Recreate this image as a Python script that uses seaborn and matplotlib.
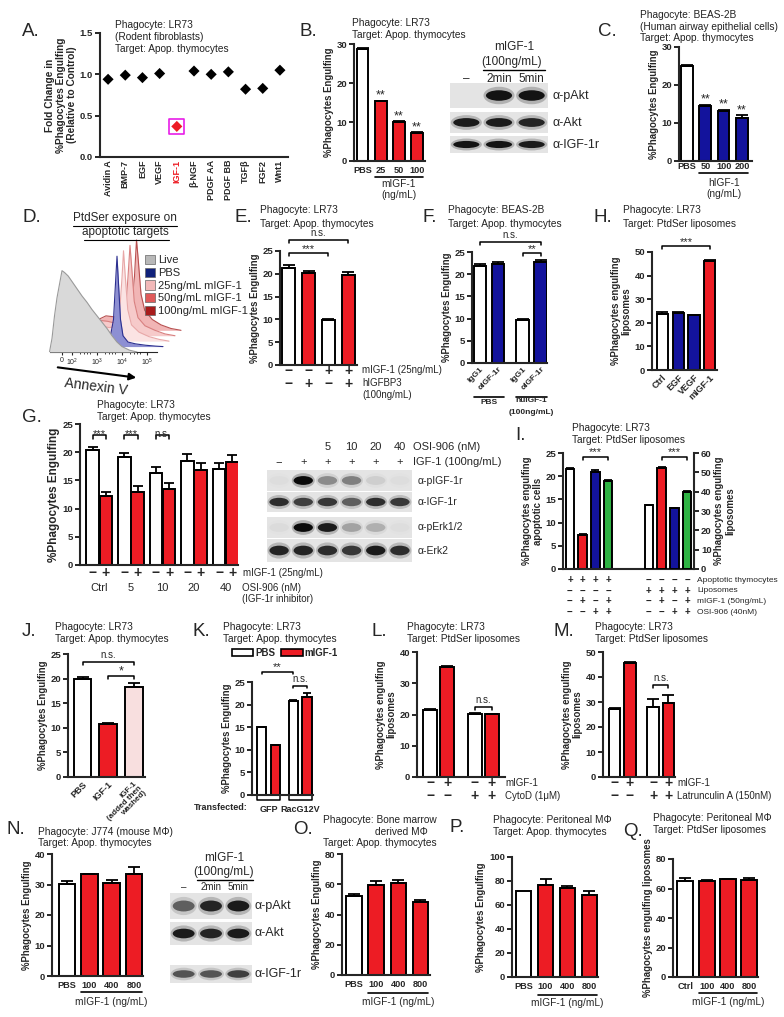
import numpy as np
import pandas as pd
import matplotlib.pyplot as plt
import matplotlib.transforms as mtransforms
from matplotlib.patches import Rectangle, Ellipse, Patch
from matplotlib.ticker import FormatStrFormatter
import seaborn as sns

sns.set_style("ticks")
plt.rcParams['font.family'] = ['Liberation Sans', 'DejaVu Sans']
plt.rcParams['axes.linewidth'] = 1.5
plt.rcParams['mathtext.default'] = 'regular'

RED = "#ed1c24"
BLUE = "#13139c"
GREEN = "#2fb344"
PINK = "#f8dfdf"

# ---------------- data ----------------
# A. growth factor screen
a_factors = ["Avidin A", "BMP-7", "EGF", "VEGF", "IGF-1", "β-NGF", "PDGF AA", "PDGF BB", "TGFβ", "FGF2", "Wnt1"]
a_fold = [0.94, 0.99, 0.96, 1.01, 0.37, 1.04, 1.00, 1.03, 0.82, 0.83, 1.05]

# B. LR73 + mIGF-1 dose
b_doses = ["PBS", "25", "50", "100"]
b_engulf = [28.6, 15.3, 10.0, 7.2]
b_err = [0.3, 0.2, 0.15, 0.15]
akt_rows = ["α-pAkt", "α-Akt", "α-IGF-1r"]
akt_lanes = ["–", "2min", "5min"]
b_blot = [[0.0, 0.95, 0.95], [0.9, 0.9, 0.85], [0.95, 0.95, 0.9]]

# C. BEAS-2B + hIGF-1 dose
c_doses = ["PBS", "50", "100", "200"]
c_engulf = [25.0, 14.6, 13.2, 11.4]
c_err = [0.3, 0.2, 0.3, 0.6]

# D. annexin V histograms (log10 intensity, relative count)
d_samples = ["Live", "PBS", "25ng/mL mIGF-1", "50ng/mL mIGF-1", "100ng/mL mIGF-1"]
d_logx = [
    [1.1, 1.2, 1.3, 1.4, 1.5, 1.6, 1.7, 1.85, 2.0, 2.2, 2.4, 2.6, 2.8, 3.0, 3.2, 3.4, 3.6, 3.8, 4.0, 4.3, 4.6],
    [2.0, 2.4, 2.8, 3.1, 3.3, 3.42, 3.5, 3.56, 3.62, 3.7, 3.8, 4.0, 4.3, 4.7, 5.1, 5.4],
    [1.5, 1.8, 2.1, 2.4, 2.7, 3.0, 3.25, 3.42, 3.52, 3.58, 3.65, 3.75, 3.9, 4.2, 4.6, 5.0, 5.4],
    [1.5, 1.8, 2.1, 2.4, 2.7, 3.0, 3.25, 3.42, 3.52, 3.6, 3.67, 3.77, 3.92, 4.2, 4.6, 5.0, 5.4],
    [1.5, 1.8, 2.1, 2.4, 2.7, 3.0, 3.25, 3.42, 3.54, 3.62, 3.69, 3.8, 3.95, 4.25, 4.6, 5.0, 5.4],
]
d_count = [
    [0, 15, 40, 60, 75, 90, 88, 84, 78, 70, 62, 55, 47, 40, 33, 26, 18, 11, 6, 2, 0],
    [0, 2, 5, 8, 12, 30, 70, 100, 70, 30, 12, 5, 3, 1.5, 0.5, 0],
    [0, 6, 14, 18, 17, 15, 16, 30, 70, 100, 72, 35, 18, 10, 5, 2, 0],
    [0, 5, 13, 17, 16, 14, 16, 28, 65, 100, 75, 38, 20, 11, 6, 2, 0],
    [0, 5, 12, 16, 15, 13, 15, 26, 60, 100, 78, 40, 22, 12, 6, 2, 0],
]
d_fill = ["#d9d9d9", "#8d8fd3", "#fbe3e3", "#f6caca", "#f1b5b5"]
d_edge = ["#9a9a9a", "#2c2f8f", "#e8a8a8", "#d88080", "#b85050"]
d_legend = ["#b8b8b8", "#10217a", "#f2b8b8", "#e05a5a", "#a81c1c"]

# E. IGFBP3
e_groups = ["mIGF-1 −", "mIGF-1 +"]
e_bp3 = ["−", "+"]
e_engulf = [[21.2, 20.1], [9.9, 19.8]]
e_err = [0.8, 0.6, 0.15, 0.5]
e_migf_row = ["−", "−", "+", "+"]
e_bp3_row = ["−", "+", "−", "+"]

# F. blocking antibody
f_groups = ["PBS", "huIGF-1"]
f_ab = ["IgG1", "αIGF-1r"]
f_engulf = [[21.8, 22.3], [9.6, 22.8]]
f_err = [0.4, 0.5, 0.4, 0.5]

# H. liposomes, growth factors
h_treat = ["Ctrl", "EGF", "VEGF", "mIGF-1"]
h_engulf = [23.7, 24.3, 23.2, 46.0]
h_err = [0.7, 0.3, 0.3, 0.8]

# G. OSI-906
g_osi = ["Ctrl", "5", "10", "20", "40"]
g_migf = ["−", "+"]
g_engulf = [[20.4, 12.2], [19.2, 13.0], [16.4, 13.5], [18.4, 16.9], [17.1, 18.3]]
g_err = [0.6, 0.7, 0.7, 1.0, 1.0, 1.0, 1.2, 1.2, 1.0, 1.2]
g_sig = ["***", "***", "n.s."]
g_blot_rows = ["α-pIGF-1r", "α-IGF-1r", "α-pErk1/2", "α-Erk2"]
g_blot_osi = ["", "", "5", "10", "20", "40"]
g_blot_igf = ["−", "+", "+", "+", "+", "+"]
g_blot = [[0.02, 1.0, 0.35, 0.4, 0.08, 0.02],
          [0.8, 0.7, 0.75, 0.55, 0.8, 0.75],
          [0.03, 1.0, 0.9, 0.25, 0.2, 0.02],
          [0.85, 0.85, 0.8, 0.75, 0.9, 0.8]]

# I. cells vs liposomes
i_groups = ["cells", "liposomes"]
i_conds = ["ctrl", "mIGF-1", "OSI-906", "mIGF-1+OSI-906"]
i_cells = [21.6, 7.4, 21.0, 18.9]
i_cells_err = [0.1, 0.1, 0.4, 0.2]
i_lipo = [32.9, 52.3, 31.4, 39.8]
i_lipo_err = [0.2, 0.3, 0.2, 0.5]
i_rows = ["Apoptotic thymocytes", "Liposomes", "mIGF-1 (50ng/mL)", "OSI-906 (40nM)"]
i_signs_cells = [["+"] * 4, ["−"] * 4, ["−", "+", "−", "+"], ["−", "−", "+", "+"]]
i_signs_lipo = [["−"] * 4, ["+"] * 4, ["−", "+", "−", "+"], ["−", "−", "+", "+"]]

# J. washout
j_treat = ["PBS", "IGF-1", "IGF-1\n(added then\nwashed)"]
j_engulf = [20.0, 10.8, 18.3]
j_err = [0.3, 0.1, 0.8]

# K. Rac G12V
k_cells = ["GFP", "RacG12V"]
k_treat = ["PBS", "mIGF-1"]
k_engulf = [[15.0, 11.0], [20.9, 21.6]]
k_err = [0.1, 0.1, 0.2, 1.0]

# L. cytochalasin D
l_groups = ["vehicle", "CytoD"]
l_engulf = [[21.6, 35.3], [20.3, 20.1]]
l_err = [0.2, 0.2, 0.2, 0.2]
# M. latrunculin A
m_groups = ["vehicle", "LatA"]
m_engulf = [[27.2, 45.6], [27.9, 29.8]]
m_err = [0.6, 0.3, 3.2, 3.2]
lm_migf_row = ["−", "+", "−", "+"]
lm_drug_row = ["−", "−", "+", "+"]

# N-Q. macrophages
mac_doses = ["PBS", "100", "400", "800"]
n_engulf = [30.2, 33.3, 30.4, 33.6]
n_err = [1.0, 0.2, 1.0, 2.2]
n_blot = [[0.55, 0.85, 0.9], [0.9, 0.85, 0.9], [0.6, 0.6, 0.7]]
o_engulf = [52.3, 59.5, 60.5, 48.0]
o_err = [1.5, 2.5, 2.0, 1.8]
p_engulf = [72.0, 77.0, 74.0, 68.5]
p_err = [0.0, 5.0, 1.5, 3.0]
q_doses = ["Ctrl", "100", "400", "800"]
q_engulf = [65.0, 65.0, 66.2, 65.8]
q_err = [2.0, 1.0, 0.3, 1.3]

# ---------------- figure ----------------
W, H = 784, 1017
fig = plt.figure(figsize=(W / 100, H / 100), dpi=100)
fig.patch.set_facecolor("white")

ov = fig.add_axes([0, 0, 1, 1], zorder=10)
ov.set_xlim(0, W)
ov.set_ylim(H, 0)
ov.axis("off")


def add_ax(x0, y0, x1, y1):
    return fig.add_axes([x0 / W, 1 - y1 / H, (x1 - x0) / W, (y1 - y0) / H])


def txt(x, y, s, size=7.3, ha="left", **kw):
    ov.text(x, y, s, fontsize=size, ha=ha, va="center", **kw)


def header(x, y, lines, step=12):
    for i, line in enumerate(lines):
        txt(x, y + i * step, line, color="#222222")


def letter(x, y, s):
    txt(x, y, s, size=13.5)


def below(ax, dy):
    return (mtransforms.blended_transform_factory(ax.transData, ax.transAxes)
            + mtransforms.ScaledTranslation(0, -dy / 100, fig.dpi_scale_trans))


def bar_geom(ax):
    ps = [p for p in ax.patches if np.isfinite(p.get_height()) and p.get_height() > 0]
    return sorted(ps, key=lambda p: p.get_x())


def centers(ax):
    return [p.get_x() + p.get_width() / 2 for p in bar_geom(ax)]


def single_bars(ax, labels, vals, colors, width):
    sns.barplot(x=labels, y=vals, hue=labels, order=labels, hue_order=labels,
                palette=colors, width=width, saturation=1, edgecolor="black",
                linewidth=1.4, errorbar=None, legend=False, ax=ax)


def grouped_bars(ax, groups, conds, vals, colors, width, gap, order=None, legend=False):
    rows = [(g, c, v) for g, vs in zip(groups, vals) for c, v in zip(conds, vs)]
    df = pd.DataFrame(rows, columns=["group", "cond", "value"])
    sns.barplot(data=df, x="group", y="value", hue="cond", order=order or groups,
                hue_order=conds, palette=colors, width=width, gap=gap, saturation=1,
                edgecolor="black", linewidth=1.4, errorbar=None, legend=legend, ax=ax)


def finish(ax, top, step, ylabel, xlim, ylabel_size=6.9):
    ax.set_xlim(*xlim)
    ax.set_ylim(0, top)
    ax.set_yticks(np.arange(0, top + step / 2, step))
    sns.despine(ax=ax)
    ax.tick_params(axis="y", length=3.5, width=1.4, pad=1.5, labelsize=6.8)
    ax.tick_params(axis="x", length=0, pad=2, labelsize=6.6)
    ax.set_xlabel("")
    ax.set_ylabel(ylabel, fontsize=ylabel_size, fontweight="bold", labelpad=2, linespacing=1.1)
    for t in ax.get_xticklabels() + ax.get_yticklabels():
        t.set_fontweight("bold")


def add_err(ax, errs, cap=4):
    for p, e in zip(bar_geom(ax), errs):
        if e > 0:
            ax.errorbar(p.get_x() + p.get_width() / 2, p.get_height(), yerr=[[0], [e]],
                        fmt="none", ecolor="black", elinewidth=1.3, capsize=cap, capthick=1.3)


def stars(ax, idx, errs, label="**"):
    ps = bar_geom(ax)
    for i in idx:
        p = ps[i]
        ax.annotate(label, (p.get_x() + p.get_width() / 2, p.get_height() + errs[i]),
                    xytext=(0, 3.5), textcoords="offset points", ha="center", va="center",
                    fontsize=9, annotation_clip=False)


def bracket(ax, i, j, y, label, size=8, lift=3):
    c = centers(ax)
    drop = ax.get_ylim()[1] * 0.025
    ax.plot([c[i], c[i], c[j], c[j]], [y - drop, y, y, y - drop], color="black", lw=1.1, clip_on=False)
    ax.annotate(label, ((c[i] + c[j]) / 2, y), xytext=(0, lift), textcoords="offset points",
                ha="center", va="center", fontsize=size, annotation_clip=False)


def under_line(ax, i, j, dy):
    ps = bar_geom(ax)
    ax.plot([ps[i].get_x(), ps[j].get_x() + ps[j].get_width()], [0, 0],
            transform=below(ax, dy), color="black", lw=1.2, clip_on=False)


def under_text(ax, x, dy, s, size=7, **kw):
    ax.text(x, 0, s, transform=below(ax, dy), ha="center", va="center", fontsize=size,
            clip_on=False, **kw)


def pm_row(ax, signs, dy, size=10):
    for c, s in zip(centers(ax), signs):
        under_text(ax, c, dy, s, size=size, fontweight="bold")


def dose_axis(ax, dy_line, dy_text, label, dy_text2=None, label2=None):
    c = centers(ax)
    under_line(ax, 1, len(c) - 1, dy_line)
    under_text(ax, (c[1] + c[-1]) / 2, dy_text, label, size=7.3)
    if label2:
        under_text(ax, (c[1] + c[-1]) / 2, dy_text2, label2, size=7.3)


def blot(x0, x1, rows, signal):
    n = len(signal[0])
    lane = (x1 - x0) / n
    for (ya, yb), sig in zip(rows, signal):
        ov.add_patch(Rectangle((x0, ya), x1 - x0, yb - ya, facecolor="#e4e4e4", edgecolor="none"))
        for i, s in enumerate(sig):
            if s <= 0:
                continue
            xc = x0 + (i + 0.5) * lane
            yc = (ya + yb) / 2
            ov.add_patch(Ellipse((xc, yc), lane * 0.95, (yb - ya) * 0.7, facecolor="#333333",
                                 alpha=0.3 * s, edgecolor="none"))
            ov.add_patch(Ellipse((xc, yc), lane * 0.8, (yb - ya) * 0.42, facecolor="#0a0a0a",
                                 alpha=s, edgecolor="none"))
    return [x0 + (i + 0.5) * lane for i in range(n)]


# ---- A ----
axA = add_ax(100, 33, 288, 157)
a_colors = [RED if f == "IGF-1" else "black" for f in a_factors]
sns.scatterplot(x=a_factors, y=a_fold, hue=a_factors, palette=a_colors, marker="D", s=32,
                linewidth=0, legend=False, ax=axA)
k_igf = a_factors.index("IGF-1")
axA.scatter([a_factors[k_igf]], [a_fold[k_igf]], marker="s", s=120, facecolors="none",
            edgecolors="#e81ee8", linewidths=1.2)
finish(axA, 1.5, 0.5, "Fold Change in\n%Phagocytes Engulfing\n(Relative to Control)", (-0.47, 10.47),
       ylabel_size=7.3)
axA.yaxis.set_major_formatter(FormatStrFormatter("%.1f"))
axA.set_xticks(range(len(a_factors)))
axA.set_xticklabels(a_factors, rotation=90, fontsize=6.5, fontweight="bold")
axA.get_xticklabels()[k_igf].set_color(RED)
header(115, 25, ["Phagocyte: LR73", "(Rodent fibroblasts)", "Target: Apop. thymocytes"])
letter(22, 32, "A.")

# ---- B ----
axB = add_ax(354, 44, 425, 161)
single_bars(axB, b_doses, b_engulf, ["white", RED, RED, RED], 0.64)
finish(axB, 30, 10, "%Phagocytes Engulfing", (-0.47, 3.44))
axB.tick_params(axis="x", pad=3.5)
add_err(axB, b_err)
stars(axB, [1, 2, 3], b_err)
dose_axis(axB, 16, 23, "mIGF-1", 34, "(ng/mL)")
header(352, 23, ["Phagocyte: LR73", "Target: Apop. thymocytes"])
letter(300, 32, "B.")
b_rows = [(83, 108), (112, 133), (136, 153)]
lanes = blot(450, 548, b_rows, b_blot)
for lx, s in zip(lanes, akt_lanes):
    txt(lx, 79, s, size=8.5, ha="center")
txt(514, 47, "mIGF-1", size=8.5, ha="center")
txt(512, 62, "(100ng/mL)", size=8.5, ha="center")
ov.plot([483, 545], [70, 70], color="black", lw=1)
for (ya, yb), s in zip(b_rows, akt_rows):
    txt(553, (ya + yb) / 2, s, size=9)

# ---- C ----
axC = add_ax(679, 47, 752, 161)
single_bars(axC, c_doses, c_engulf, ["white", BLUE, BLUE, BLUE], 0.64)
finish(axC, 30, 10, "%Phagocytes Engulfing", (-0.44, 3.55))
axC.tick_params(axis="x", pad=1)
add_err(axC, c_err)
stars(axC, [1, 2, 3], c_err)
dose_axis(axC, 12, 22, "hIGF-1", 33, "(ng/mL)")
header(640, 15, ["Phagocyte: BEAS-2B", "(Human airway epithelial cells)", "Target: Apop. thymocytes"],
       step=11.5)
letter(598, 31, "C.")

# ---- D ----
axD = add_ax(45, 230, 185, 352)
for k in reversed(range(len(d_samples))):
    x = np.array(d_logx[k]) + 0.24 * k
    y = np.array(d_count[k], dtype=float) + 6 * k
    axD.fill_between(x, 6 * k, y, color=d_fill[k], lw=0, zorder=2 * (6 - k))
    sns.lineplot(x=x, y=y, color=d_edge[k], lw=0.8, sort=False, ax=axD, zorder=2 * (6 - k) + 1)
axD.set_xlim(0.92, 6.52)
axD.set_ylim(0, 135)
sns.despine(ax=axD, left=True)
axD.set_yticks([])
axD.spines["bottom"].set_linewidth(0.8)
axD.spines["bottom"].set_bounds(1.1, 5.4)
axD.set_xticks([1.6, 2, 3, 4, 5])
axD.set_xticklabels(["0", "$10^2$", "$10^3$", "$10^4$", "$10^5$"])
axD.set_xticks([2.3, 2.48, 2.6, 2.7, 3.3, 3.48, 3.6, 3.7, 4.3, 4.48, 4.6, 4.7], minor=True)
axD.tick_params(axis="x", which="major", length=2.5, width=0.8, labelsize=5, pad=1)
axD.tick_params(axis="x", which="minor", length=1.5, width=0.6)
axD.set_xlabel("")
axD.set_ylabel("")
d_handles = [Patch(facecolor=c, edgecolor="#666666", lw=0.5) for c in d_legend]
legD = axD.legend(d_handles, d_samples, loc="upper left", bbox_to_anchor=(0.714, 0.795),
                  frameon=False, fontsize=8, handlelength=0.9, handleheight=0.9,
                  handletextpad=0.25, labelspacing=0.2, borderaxespad=0, borderpad=0)
legD.set_zorder(20)
letter(23, 218, "D.")
txt(125, 218, "PtdSer exposure on", size=8.5, ha="center")
txt(125, 232, "apoptotic targets", size=8.5, ha="center")
ov.plot([73, 177], [225.5, 225.5], color="black", lw=0.8)
ov.plot([84, 169], [239.5, 239.5], color="black", lw=0.8)
ov.annotate("", xy=(139, 378), xytext=(55, 367),
            arrowprops=dict(arrowstyle="-|>", lw=1.5, color="black", mutation_scale=10))
txt(96, 387, "Annexin V", size=10, ha="center", rotation=-7)

# ---- E ----
axE = add_ax(280, 251, 357, 365)
grouped_bars(axE, e_groups, e_bp3, e_engulf, ["white", RED], 1.0, 0.35)
finish(axE, 25, 5, "%Phagocytes Engulfing", (-0.47, 1.47))
axE.set_xticks([])
add_err(axE, e_err)
bracket(axE, 0, 2, 24.6, "***")
bracket(axE, 0, 3, 27.4, "n.s.", size=7, lift=5)
pm_row(axE, e_migf_row, 6)
pm_row(axE, e_bp3_row, 19)
txt(362, 370, "mIGF-1 (25ng/mL)", size=7)
txt(362, 383, "hIGFBP3", size=7)
txt(362, 395, "(100ng/mL)", size=7)
header(260, 210, ["Phagocyte: LR73", "Target: Apop. thymocytes"], step=14)
letter(235, 218, "E.")

# ---- F ----
axF = add_ax(472, 252, 547, 363)
grouped_bars(axF, f_groups, f_ab, f_engulf, ["white", BLUE], 0.85, 0.3)
finish(axF, 25, 5, "%Phagocytes Engulfing", (-0.4, 1.36))
add_err(axF, f_err)
cF = centers(axF)
axF.set_xticks(cF)
axF.set_xticklabels(f_ab * 2, rotation=45, ha="right", rotation_mode="anchor", fontsize=6,
                    fontweight="bold")
bracket(axF, 0, 3, 27.3, "n.s.", size=7, lift=5)
bracket(axF, 2, 3, 24.8, "**")
under_line(axF, 0, 1, 34)
under_line(axF, 2, 3, 34)
under_text(axF, (cF[0] + cF[1]) / 2, 40, "PBS", size=6, fontweight="bold")
under_text(axF, (cF[2] + cF[3]) / 2, 38, "huIGF-1", size=6, fontweight="bold")
under_text(axF, (cF[2] + cF[3]) / 2, 49, "(100ng/mL)", size=6, fontweight="bold")
header(448, 210, ["Phagocyte: BEAS-2B", "Target: Apop. thymocytes"], step=14)
letter(423, 218, "F.")

# ---- H ----
axH = add_ax(652, 252, 717, 370)
single_bars(axH, h_treat, h_engulf, ["white", BLUE, BLUE, RED], 0.7)
finish(axH, 50, 10, "%Phagocytes engulfing\nliposomes", (-0.64, 3.45))
add_err(axH, h_err)
axH.set_xticks(range(len(h_treat)))
axH.set_xticklabels(h_treat, rotation=45, ha="right", rotation_mode="anchor", fontsize=6.5,
                    fontweight="bold")
bracket(axH, 0, 3, 52.5, "***")
header(623, 210, ["Phagocyte: LR73", "Target: PtdSer liposomes"], step=14)
letter(594, 218, "H.")

# ---- G ----
axG = add_ax(80, 424, 238, 565)
grouped_bars(axG, g_osi, g_migf, g_engulf, ["white", RED], 0.84, 0.05)
finish(axG, 25, 5, "%Phagocytes Engulfing", (-0.61, 4.39), ylabel_size=8.5)
axG.set_xticks([])
add_err(axG, g_err, cap=3.5)
for k, s in enumerate(g_sig):
    bracket(axG, 2 * k, 2 * k + 1, 23.0, s, size=7 if s == "n.s." else 8, lift=1)
pm_row(axG, g_migf * len(g_osi), 8)
for k, s in enumerate(g_osi):
    under_text(axG, k, 23, s, size=8)
txt(243, 573, "mIGF-1 (25ng/mL)", size=7)
txt(242, 588, "OSI-906 (nM)", size=7)
txt(242, 599, "(IGF-1r inhibitor)", size=7)
header(97, 405, ["Phagocyte: LR73", "Target: Apop. thymocytes"])
letter(22, 418, "G.")
g_rows = [(470, 491), (492, 512), (517, 538), (539, 562)]
lanes = blot(267, 412, g_rows, g_blot)
for lx, s in zip(lanes, g_blot_osi):
    txt(lx, 447, s, size=8, ha="center")
for lx, s in zip(lanes, g_blot_igf):
    txt(lx, 462, s, size=8, ha="center")
txt(413, 447, "OSI-906 (nM)", size=8)
txt(413, 462, "IGF-1 (100ng/mL)", size=8)
for (ya, yb), s in zip(g_rows, g_blot_rows):
    txt(418, (ya + yb) / 2, s, size=7.5)

# ---- I ----
axI = add_ax(563, 453, 694, 569)
axI2 = axI.twinx()
i_colors = ["white", RED, BLUE, GREEN]
grouped_bars(axI, ["cells"], i_conds, [i_cells], i_colors, 0.645, 0.33, order=i_groups)
grouped_bars(axI2, ["liposomes"], i_conds, [i_lipo], i_colors, 0.645, 0.33, order=i_groups)
finish(axI, 25, 5, "%Phagocytes engulfing\napoptotic cells", (-0.33, 1.33))
axI.set_xticks([])
axI2.set_ylim(0, 60)
axI2.set_yticks(range(0, 61, 10))
for s in ["top", "left", "bottom"]:
    axI2.spines[s].set_visible(False)
axI2.spines["right"].set_linewidth(1.5)
axI2.tick_params(axis="y", length=3.5, width=1.4, pad=1.5, labelsize=6.8)
for t in axI2.get_yticklabels():
    t.set_fontweight("bold")
axI2.set_xlabel("")
axI2.set_ylabel("%Phagocytes engulfing\nliposomes", fontsize=6.9, fontweight="bold", labelpad=2,
                linespacing=1.1)
add_err(axI, i_cells_err, cap=3)
add_err(axI2, i_lipo_err, cap=3)
bracket(axI, 1, 3, 24.2, "***")
bracket(axI2, 1, 3, 58.1, "***")
for r, (name, sl, sr) in enumerate(zip(i_rows, i_signs_cells, i_signs_lipo)):
    pm_row(axI, sl, 11 + r * 10.7, size=7)
    pm_row(axI2, sr, 11 + r * 10.7, size=7)
    txt(697, 580 + r * 10.7, name, size=6)
header(572, 428, ["Phagocyte: LR73", "Target: PtdSer liposomes"])
letter(515, 436, "I.")

# ---- J ----
axJ = add_ax(68, 654, 145, 777)
single_bars(axJ, j_treat, j_engulf, ["white", RED, PINK], 0.69)
finish(axJ, 25, 5, "%Phagocytes Engulfing", (-0.57, 2.44))
add_err(axJ, j_err)
axJ.set_xticks(range(len(j_treat)))
axJ.set_xticklabels(j_treat, rotation=45, ha="right", rotation_mode="anchor", fontsize=6.5,
                    fontweight="bold", linespacing=0.95)
axJ.get_xticklabels()[2].set_fontsize(5.8)
bracket(axJ, 0, 2, 23.3, "n.s.", size=7, lift=5)
bracket(axJ, 1, 2, 20.6, "*", size=9)
header(55, 627, ["Phagocyte: LR73", "Target: Apop. thymocytes"], step=11.6)
letter(22, 632, "J.")

# ---- K ----
axK = add_ax(252, 682, 313, 795)
grouped_bars(axK, k_cells, k_treat, k_engulf, ["white", RED], 0.86, 0.31, legend=True)
finish(axK, 25, 5, "%Phagocytes Engulfing", (-0.52, 1.41))
add_err(axK, k_err, cap=3)
axK.set_xticks([0, 1])
axK.set_xticklabels(k_cells, fontsize=6.5, fontweight="bold")
axK.tick_params(axis="x", pad=7)
sns.move_legend(axK, "center left", bbox_to_anchor=(-0.39, 1.257), ncol=2, frameon=False,
                title=None, prop={"weight": "bold", "size": 7}, handlelength=2.2,
                handleheight=0.7, columnspacing=0.6, handletextpad=0.2, borderaxespad=0)
for hp in axK.get_legend().get_patches():
    hp.set_edgecolor("black")
    hp.set_linewidth(1.2)
psK = bar_geom(axK)
for a, b in [(0, 1), (2, 3)]:
    xl, xr = psK[a].get_x(), psK[b].get_x() + psK[b].get_width()
    axK.plot([xl, xl, xr, xr], [0, -0.04, -0.04, 0], transform=below(axK, 0), color="black",
             lw=1.1, clip_on=False)
bracket(axK, 0, 2, 27.3, "**")
bracket(axK, 2, 3, 24.2, "n.s.", size=7, lift=5)
txt(248, 808, "Transfected:", size=6.5, ha="right", fontweight="bold")
header(223, 627, ["Phagocyte: LR73", "Target: Apop. thymocytes"], step=11.6)
letter(193, 632, "K.")

# ---- L ----
axL = add_ax(417, 652, 505, 777)
grouped_bars(axL, l_groups, g_migf, l_engulf, ["white", RED], 0.756, 0.22)
finish(axL, 40, 10, "%Phagocytes engulfing\nliposomes", (-0.48, 1.48))
axL.set_xticks([])
add_err(axL, l_err)
bracket(axL, 2, 3, 22.5, "n.s.", size=7, lift=5)
pm_row(axL, lm_migf_row, 6)
pm_row(axL, lm_drug_row, 19)
txt(505, 783, "mIGF-1", size=7)
txt(505, 796, "CytoD (1μM)", size=7)
header(407, 627, ["Phagocyte: LR73", "Target: PtdSer liposomes"], step=11.6)
letter(372, 632, "L.")

# ---- M ----
axM = add_ax(603, 652, 675, 777)
grouped_bars(axM, m_groups, g_migf, m_engulf, ["white", RED], 0.79, 0.24)
finish(axM, 50, 10, "%Phagocytes engulfing\nliposomes", (-0.5, 1.37))
axM.set_xticks([])
add_err(axM, m_err)
bracket(axM, 2, 3, 36.8, "n.s.", size=7, lift=5)
pm_row(axM, lm_migf_row, 6)
pm_row(axM, lm_drug_row, 19)
txt(677, 783, "mIGF-1", size=7)
txt(677, 796, "Latrunculin A (150nM)", size=7)
header(595, 627, ["Phagocyte: LR73", "Target: PtdSer liposomes"], step=11.6)
letter(554, 632, "M.")

# ---- N ----
axN = add_ax(52, 854, 143, 976)
single_bars(axN, mac_doses, n_engulf, ["white", RED, RED, RED], 0.74)
finish(axN, 40, 10, "%Phagocytes Engulfing", (-0.66, 3.4))
axN.tick_params(axis="x", pad=3.5)
add_err(axN, n_err)
dose_axis(axN, 16, 26, "mIGF-1 (ng/mL)")
header(38, 832, ["Phagocyte: J774 (mouse MΦ)", "Target: Apop. thymocytes"], step=11)
letter(7, 830, "N.")
n_rows = [(893, 919), (922, 945), (965, 983)]
lanes = blot(170, 252, n_rows, n_blot)
for lx, s in zip(lanes, akt_lanes):
    txt(lx, 887, s, size=7, ha="center")
txt(224, 858, "mIGF-1", size=8.5, ha="center")
txt(224, 872, "(100ng/mL)", size=8.5, ha="center")
ov.plot([197, 253], [880, 880], color="black", lw=1)
for (ya, yb), s in zip(n_rows, akt_rows):
    txt(255, (ya + yb) / 2, s, size=9)

# ---- O ----
axO = add_ax(342, 854, 430, 975)
single_bars(axO, mac_doses, o_engulf, ["white", RED, RED, RED], 0.7)
finish(axO, 80, 20, "%Phagocytes Engulfing", (-0.54, 3.43))
axO.tick_params(axis="x", pad=3.5)
add_err(axO, o_err)
dose_axis(axO, 18, 27, "mIGF-1 (ng/mL)")
txt(323, 820, "Phagocyte: Bone marrow", color="#222222")
txt(375, 832, "derived MΦ", color="#222222")
txt(323, 843, "Target: Apop. thymocytes", color="#222222")
letter(293, 830, "O.")

# ---- P ----
axP = add_ax(512, 857, 598, 977)
single_bars(axP, mac_doses, p_engulf, ["white", RED, RED, RED], 0.69)
finish(axP, 100, 20, "%Phagocytes Engulfing", (-0.54, 3.41))
axP.tick_params(axis="x", pad=3.5)
add_err(axP, p_err)
dose_axis(axP, 18, 26, "mIGF-1 (ng/mL)")
header(493, 820, ["Phagocyte: Peritoneal MΦ", "Target: Apop. thymocytes"])
letter(450, 828, "P.")

# ---- Q ----
axQ = add_ax(673, 859, 758, 977)
single_bars(axQ, q_doses, q_engulf, ["white", RED, RED, RED], 0.74)
finish(axQ, 80, 20, "%Phagocytes engulfing liposomes", (-0.58, 3.41))
axQ.tick_params(axis="x", pad=3.5)
add_err(axQ, q_err)
dose_axis(axQ, 16, 25, "mIGF-1 (ng/mL)")
header(653, 818, ["Phagocyte: Peritoneal MΦ", "Target: PtdSer liposomes"])
letter(623, 831, "Q.")

fig.savefig("out.png", dpi=100, facecolor="white")
